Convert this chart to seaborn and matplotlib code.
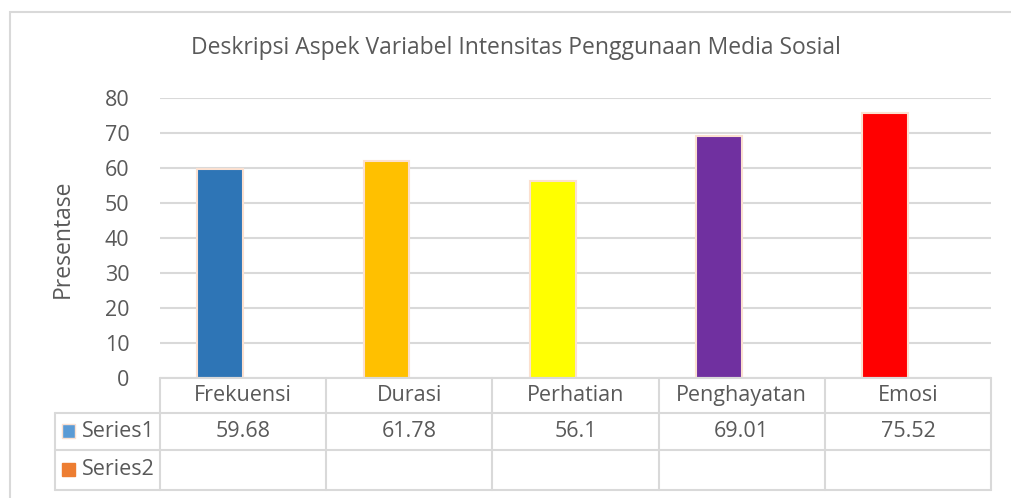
import matplotlib
matplotlib.use("Agg")
import matplotlib.pyplot as plt
import matplotlib.transforms as mtransforms
from matplotlib.patches import Rectangle
import seaborn as sns
import pandas as pd
import numpy as np

categories = ["Frekuensi", "Durasi", "Perhatian", "Penghayatan", "Emosi"]
series1 = [59.68, 61.78, 56.1, 69.01, 75.52]
series2 = [np.nan, np.nan, np.nan, np.nan, np.nan]
series_names = ["Series1", "Series2"]
bar_colors = ["#2E75B6", "#FFC000", "#FFFF00", "#7030A0", "#FF0000"]
legend_colors = ["#5B9BD5", "#ED7D31"]
yticks = [0, 10, 20, 30, 40, 50, 60, 70, 80]
title = "Deskripsi Aspek Variabel Intensitas Penggunaan Media Sosial"
ylabel = "Presentase"

df = pd.DataFrame({
    "cat": categories * 2,
    "val": series1 + series2,
    "series": [series_names[0]] * len(categories) + [series_names[1]] * len(categories),
})

sns.set_theme(style="white")
plt.rcParams["font.family"] = ["Open Sans", "DejaVu Sans"]
TXT = "#595959"
GRID = "#D9D9D9"
FS = 15.5

fig = plt.figure(figsize=(10.11, 4.98), dpi=100)
W, H = 1011, 498
ax = fig.add_axes([160 / W, (H - 377.7) / H, (991 - 160) / W, 280 / H])

sns.barplot(data=df, x="cat", y="val", hue="series", hue_order=series_names,
            order=categories, width=0.55, gap=0, dodge=True, ax=ax,
            legend=False, errorbar=None)

# recolor bars per category (series1 bars)
patches = [p for p in ax.patches if p.get_height() > 0 and not np.isnan(p.get_height())]
patches.sort(key=lambda p: p.get_x())
for p, c in zip(patches, bar_colors):
    p.set_facecolor(c)
    p.set_edgecolor("#FBE0D0")
    p.set_linewidth(1.5)

ax.set_xlim(-0.5, len(categories) - 0.5)
ax.set_ylim(0, 80)
ax.set_yticks(yticks)
ax.set_yticklabels([str(t) for t in yticks], fontsize=FS, color=TXT)
ax.tick_params(axis="y", length=0, pad=22)
ax.set_xticks([])
ax.set_xlabel("")
ax.set_ylabel("")
for s in ax.spines.values():
    s.set_visible(False)
ax.yaxis.grid(True, color=GRID, linewidth=1.5)
ax.set_axisbelow(True)

fig.text(63 / W, (H - 239) / H, ylabel, rotation=90, ha="center", va="center",
         fontsize=16.5, color=TXT)
fig.text(516 / W, (H - 48) / H, title, ha="center", va="center",
         fontsize=16.5, color=TXT)

# data table
trans = mtransforms.blended_transform_factory(ax.transData, ax.transAxes)
row_edges = [0, -35 / 280, -72 / 280, -112 / 280]
lc = dict(color=GRID, linewidth=1.5, clip_on=False)
left_legend = -0.5 - (160 - 55) / 831 * len(categories)
# horizontal lines
ax.plot([-0.5, len(categories) - 0.5], [row_edges[0]] * 2, transform=trans, **lc)
for r in row_edges[1:]:
    ax.plot([left_legend, len(categories) - 0.5], [r, r], transform=trans, **lc)
# vertical lines
for i in range(len(categories) + 1):
    ax.plot([i - 0.5, i - 0.5], [row_edges[0], row_edges[-1]], transform=trans, **lc)
ax.plot([left_legend, left_legend], [row_edges[1], row_edges[-1]], transform=trans, **lc)

for i, c in enumerate(categories):
    ax.text(i, (row_edges[0] + row_edges[1]) / 2, c, transform=trans, ha="center",
            va="center", fontsize=FS, color=TXT)
    ax.text(i, (row_edges[1] + row_edges[2]) / 2, f"{series1[i]:g}", transform=trans,
            ha="center", va="center", fontsize=FS, color=TXT)

sq_w = 0.075
for k, name in enumerate(series_names):
    yc = (row_edges[k + 1] + row_edges[k + 2]) / 2
    x0 = left_legend + 0.045
    ax.add_patch(Rectangle((x0, yc - 0.024), sq_w, 0.048, transform=trans,
                           facecolor=legend_colors[k],
                           edgecolor="#FBE0D0" if k == 0 else legend_colors[k],
                           linewidth=1, clip_on=False))
    ax.text(x0 + sq_w + 0.04, yc, name, transform=trans, ha="left", va="center",
            fontsize=FS, color=TXT)

# outer chart border
fig.add_artist(Rectangle((10 / W, -0.1), 1.2, (H - 12) / H + 0.1,
                         transform=fig.transFigure, fill=False,
                         edgecolor=GRID, linewidth=1.5))

fig.savefig("out.png", dpi=100, facecolor="white")
